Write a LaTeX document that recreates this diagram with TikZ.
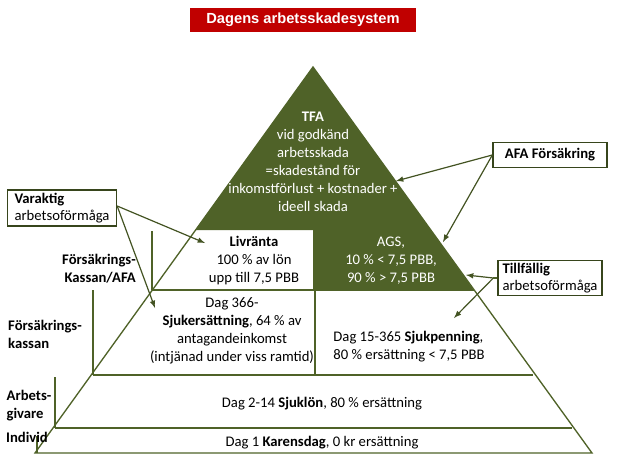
\documentclass[tikz,border=0pt]{standalone}
\usepackage{fontspec}
\setmainfont{Carlito}
\newfontfamily\titlefont{Liberation Sans}
\definecolor{dgreen}{HTML}{4F6228}
\definecolor{tred}{HTML}{C00000}
\begin{document}
\begin{tikzpicture}[x=0.75pt,y=-0.75pt,
  ln/.style={draw=dgreen,line width=1pt},
  arr/.style={draw=dgreen!85!black,line width=0.9pt,-latex},
  lbl/.style={font=\fontsize{11}{13.5}\selectfont,align=center,inner sep=0pt},
  wlbl/.style={lbl,text=white},
  bx/.style={draw=dgreen!70!black,line width=1pt,fill=white,font=\fontsize{11}{13}\selectfont,align=left,inner sep=2pt}]
\useasboundingbox (0,0) rectangle (629,472);
% title
\node[fill=tred,minimum width=226*0.75pt,minimum height=24*0.75pt,inner sep=0pt,text=white,font=\titlefont\bfseries\fontsize{11}{13}\selectfont] (title) at (303,20) {Dagens arbetsskadesystem};
% pyramid
\coordinate (A) at (313,67);
\coordinate (L) at (35,453);
\coordinate (R) at (592,453);
\fill[dgreen] (A) -- (195.4,230) -- (430.6,230) -- cycle;
\fill[dgreen] (313,230) -- (430.6,230) -- (473.8,290) -- (313,290) -- cycle;
\draw[ln] (A) -- (L) -- (R) -- cycle;
\draw[ln] (152,290) -- (473.8,290);
\draw[ln] (93,375) -- (533,375);
\draw[ln] (55,428) -- (572,428);
\draw[ln] (315,290) -- (315,375);
\draw[ln] (152,231) -- (152,290);
\draw[ln] (93,290) -- (93,375);
\draw[ln] (55,377) -- (55,428);
\draw[ln] (37,436) -- (37,453);
% texts
\node[wlbl] (tfa) at (313,162) {\textbf{TFA}\\vid godkänd\\arbetsskada\\=skadestånd för\\inkomstförlust + kostnader +\\ideell skada};
\node[lbl] (liv) at (254,261) {\textbf{Livränta}\\100 \% av lön\\upp till 7,5 PBB};
\node[wlbl] (ags) at (391,261) {AGS,\\10 \% < 7,5 PBB,\\90 \% > 7,5 PBB};
\node[lbl] (sjer) at (232,331) {Dag 366-\\\textbf{Sjukersättning}, 64 \% av\\antagandeinkomst\\(intjänad under viss ramtid)};
\node[lbl,align=left] (sjp) at (409,347) {Dag 15-365 \textbf{Sjukpenning},\\80 \% ersättning < 7,5 PBB};
\node[lbl] (sjl) at (322,404) {Dag 2-14 \textbf{Sjuklön}, 80 \% ersättning};
\node[lbl] (kar) at (322,443) {Dag 1 \textbf{Karensdag}, 0 kr ersättning};
\node[lbl,font=\bfseries\fontsize{11}{13.5}\selectfont,align=right] (fka) at (99,269) {Försäkrings-\\Kassan/AFA};
\node[lbl,font=\bfseries\fontsize{11}{13.5}\selectfont,align=left] (fk) at (45,334) {Försäkrings-\\kassan};
\node[lbl,font=\bfseries\fontsize{11}{13.5}\selectfont,align=left] (ag) at (29,406) {Arbets-\\givare};
\node[lbl,font=\bfseries\fontsize{11}{13.5}\selectfont,align=left] (ind) at (27,437) {Individ};
% boxes
\node[bx,minimum width=109*0.75pt,minimum height=36*0.75pt] (var) at (62,208) {\textbf{Varaktig}\\arbetsoförmåga};
\node[bx,minimum width=114*0.75pt,minimum height=25*0.75pt,align=center] (afa) at (550,155) {\textbf{AFA Försäkring}};
\node[bx,minimum width=104*0.75pt,minimum height=33*0.75pt] (till) at (550,278) {\textbf{Tillfällig}\\arbetsoförmåga};
% arrows
\coordinate (v1) at (205,243);
\coordinate (v2) at (155,308);
\coordinate (a1) at (396,181);
\coordinate (a2) at (443,242);
\coordinate (t1) at (466,275);
\coordinate (t2) at (454,318);
\draw[arr] (var.east) ++(0,-2) -- (v1);
\draw[arr] (var.east) ++(0,-2) -- (v2);
\draw[arr] (afa.west) -- (a1);
\draw[arr] (afa.west) -- (a2);
\draw[arr] (till.west) ++(-4,0) -- (t1);
\draw[arr] (till.west) ++(-4,0) -- (t2);
\draw[dgreen,line width=0.9pt] (till.west) -- ++(-4,0);
\end{tikzpicture}
\end{document}
